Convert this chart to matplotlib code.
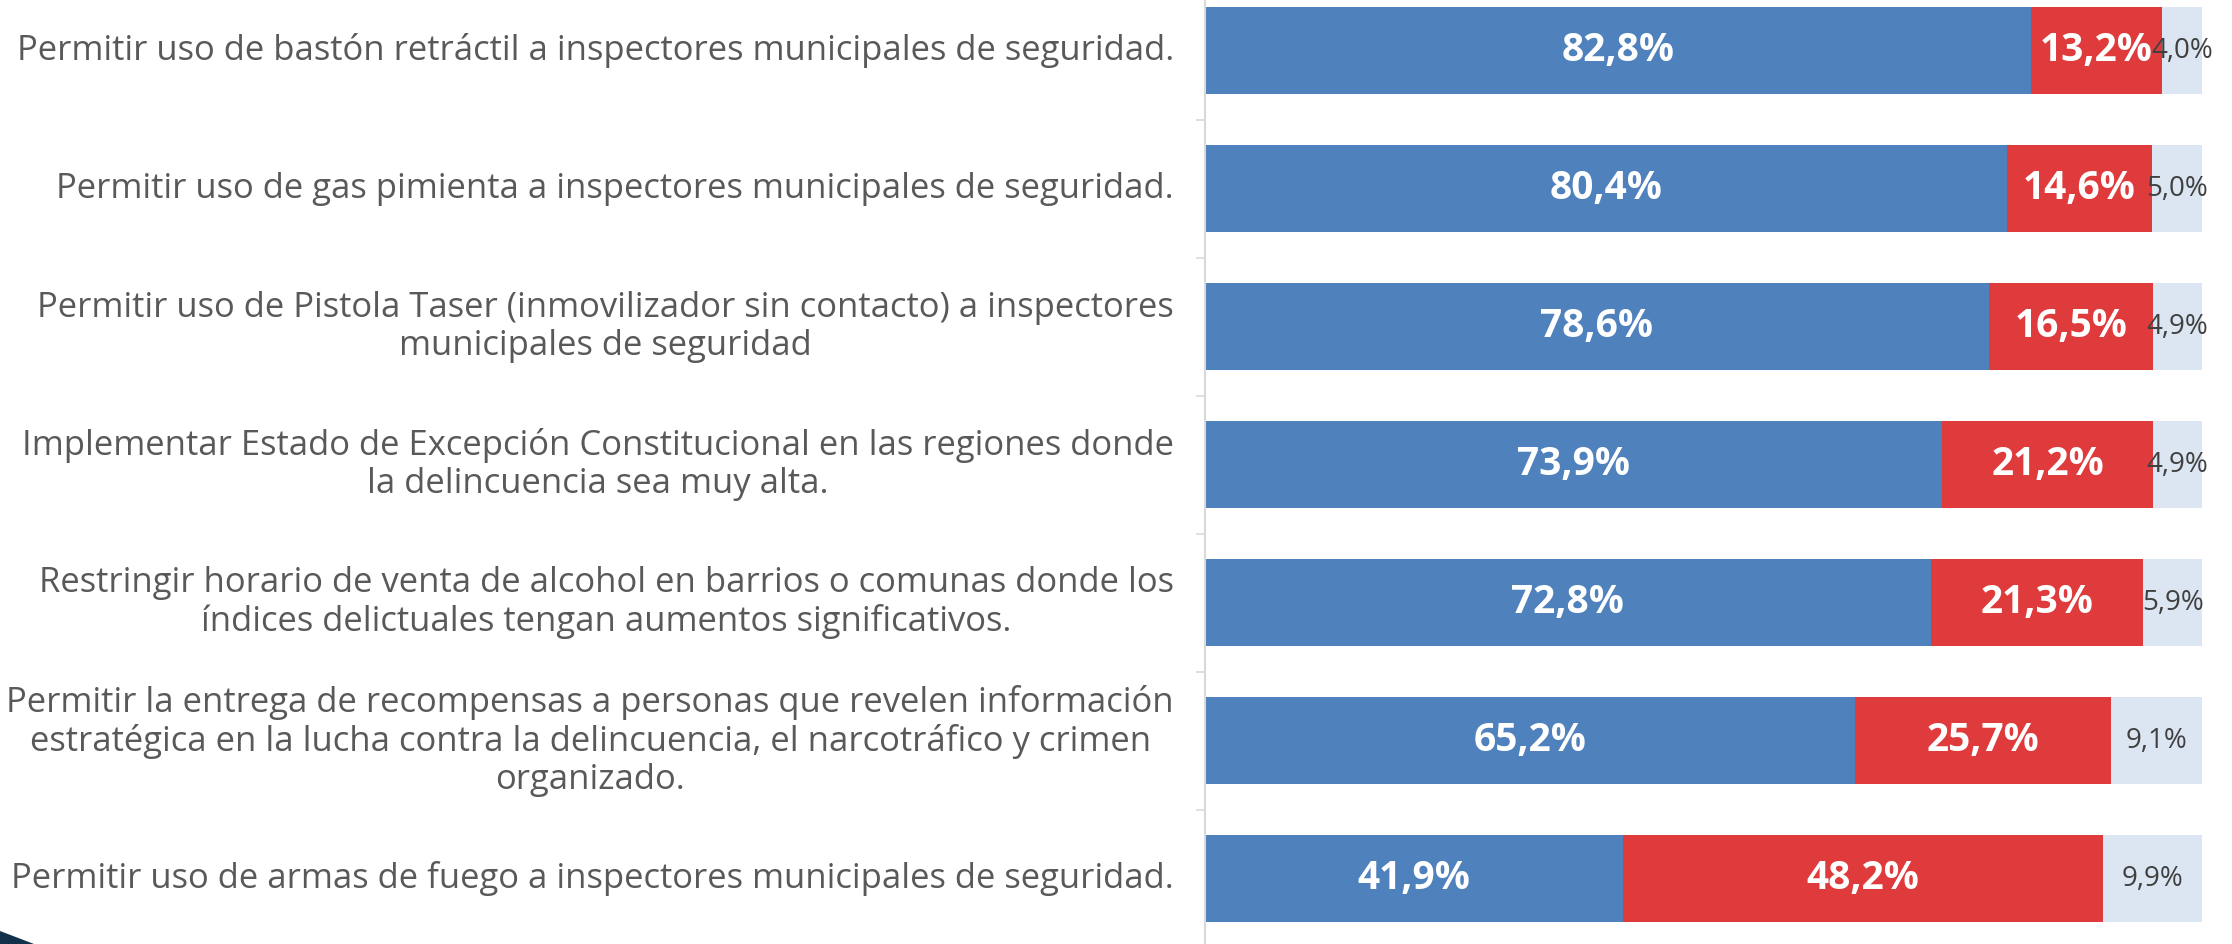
import matplotlib
matplotlib.use("Agg")
import matplotlib.pyplot as plt
from matplotlib.patches import Polygon
import numpy as np

categories = [
    "Permitir uso de bastón retráctil a inspectores municipales de seguridad.",
    "Permitir uso de gas pimienta a inspectores municipales de seguridad.",
    "Permitir uso de Pistola Taser (inmovilizador sin contacto) a inspectores\nmunicipales de seguridad",
    "Implementar Estado de Excepción Constitucional en las regiones donde\nla delincuencia sea muy alta.",
    "Restringir horario de venta de alcohol en barrios o comunas donde los\níndices delictuales tengan aumentos significativos.",
    "Permitir la entrega de recompensas a personas que revelen información\nestratégica en la lucha contra la delincuencia, el narcotráfico y crimen\norganizado.",
    "Permitir uso de armas de fuego a inspectores municipales de seguridad.",
]
yes_vals = [82.8, 80.4, 78.6, 73.9, 72.8, 65.2, 41.9]
no_vals = [13.2, 14.6, 16.5, 21.2, 21.3, 25.7, 48.2]
ns_vals = [4.0, 5.0, 4.9, 4.9, 5.9, 9.1, 9.9]

BLUE = "#4F81BD"
RED = "#E03B3C"
LIGHT = "#DCE6F2"
TXT = "#595959"
FONT = "Open Sans"

W, H = 2232, 944
fig = plt.figure(figsize=(W / 100, H / 100), dpi=100)
ax_left, ax_right = 1205, 2202
ax_top, ax_bot = -18.5, 948
ax = fig.add_axes([ax_left / W, (H - ax_bot) / H, (ax_right - ax_left) / W, (ax_bot - ax_top) / H])

y = np.arange(len(categories))
yes = np.array(yes_vals)
no = np.array(no_vals)
ns = np.array(ns_vals)
bh = 0.63
ax.barh(y, yes, height=bh, color=BLUE, edgecolor="none")
ax.barh(y, no, left=yes, height=bh, color=RED, edgecolor="none")
ax.barh(y, ns, left=yes + no, height=bh, color=LIGHT, edgecolor="none")

def fmt(v):
    return f"{v:.1f}%".replace(".", ",")

for i in range(len(y)):
    ax.text(yes[i] / 2, y[i], fmt(yes[i]), ha="center", va="center", color="white",
            fontsize=28, fontweight="bold", family=FONT)
    ax.text(yes[i] + no[i] / 2, y[i], fmt(no[i]), ha="center", va="center", color="white",
            fontsize=28, fontweight="bold", family=FONT)
    ax.text(yes[i] + no[i] + ns[i] / 2, y[i], fmt(ns[i]), ha="center", va="center", color="#404040",
            fontsize=20, family=FONT)

ax.set_xlim(0, 100)
ax.set_ylim(len(categories) - 0.5, -0.5)
ax.set_xticks([])
ax.set_yticks(np.arange(len(categories) + 1) - 0.5)
ax.set_yticklabels([])
ax.tick_params(axis="y", length=6.5, width=1.2, color="#D9D9D9")
for s in ["top", "right", "bottom"]:
    ax.spines[s].set_visible(False)
ax.spines["left"].set_color("#D9D9D9")
ax.spines["left"].set_linewidth(1.5)

for i, c in enumerate(categories):
    ax.text(-3.1, y[i], c, ha="right", va="center", multialignment="center",
            fontsize=24.9, color=TXT, family=FONT, linespacing=1.15, transform=ax.transData)

# decorative corner shape
fig.patches.append(Polygon([(0, 0), (34 / W, 0), (0, 13 / H)], closed=True,
                           transform=fig.transFigure, facecolor="#12304A", edgecolor="none"))

fig.savefig("out.png", dpi=100, facecolor="white")
